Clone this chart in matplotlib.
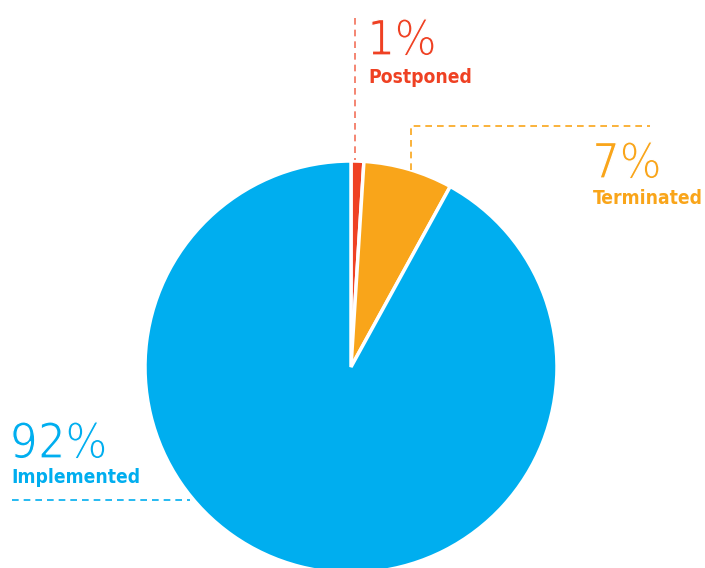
import matplotlib.pyplot as plt
import matplotlib.patheffects as pe

# data
labels = ['Postponed', 'Terminated', 'Implemented']
values = [1, 7, 92]
pct_labels = ['1%', '7%', '92%']
colors = ['#EF4123', '#F9A51A', '#00AEEF']

W, H = 705, 568
fig = plt.figure(figsize=(W / 100, H / 100), dpi=100)
ax = fig.add_axes([0, 0, 1, 1])

cx, cy, r = 351, H - 367, 206
ax.pie(values, colors=colors, startangle=90, counterclock=False,
       center=(cx, cy), radius=r, frame=True,
       wedgeprops=dict(edgecolor='white', linewidth=2.5))
ax.set_xlim(0, W)
ax.set_ylim(0, H)
ax.set_aspect('equal')
ax.axis('off')

# leader lines
dash = (0, (4, 3))
ax.plot([355, 355], [H - 18, H - 160], ls=dash, color=colors[0], lw=1.2, alpha=0.75)
ax.plot([411, 411, 650], [H - 170, H - 126, H - 126], ls=dash, color=colors[1], lw=1.2)
ax.plot([12, 190], [H - 500, H - 500], ls=dash, color=colors[2], lw=1.2)

# labels (white edge stroke thins the big numbers a bit)
thin = [pe.Stroke(linewidth=0.9, foreground='white')]
pos = [(367, 55, 83), (592, 178, 204), (10, 458, 483)]
for (x, yb, yl), p, lab, c in zip(pos, pct_labels, labels, colors):
    ax.text(x, H - yb, p, color=c, fontsize=35, fontfamily='DejaVu Sans',
            fontstretch='condensed', va='baseline', ha='left', path_effects=thin)
    ax.text(x + 1, H - yl, lab, color=c, fontsize=13.8, fontfamily='DejaVu Sans',
            fontstretch='condensed', fontweight='bold', va='baseline', ha='left')

fig.savefig('out.png', dpi=100)
